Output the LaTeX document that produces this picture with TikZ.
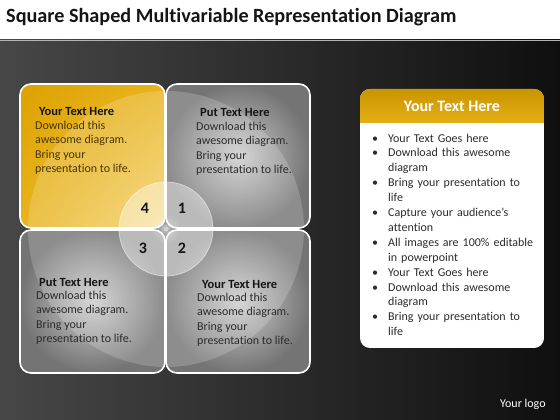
\documentclass[tikz,border=0pt]{standalone}
\usepackage{fontspec}
\setmainfont[Ligatures=NoCommon]{Carlito}
\usetikzlibrary{positioning,shadings}
\definecolor{bgLeft}{HTML}{474747}
\definecolor{bgRight}{HTML}{0F0F0F}
\definecolor{bandLine}{HTML}{B4B4B4}
\definecolor{goldDark}{HTML}{DDA100}
\definecolor{goldMid}{HTML}{E8B31A}
\definecolor{goldLight}{HTML}{F3D36E}
\definecolor{goldHeadTop}{HTML}{C99500}
\definecolor{goldHeadBottom}{HTML}{E4AE14}
\definecolor{cellLight}{HTML}{CDCDCD}
\definecolor{cellDark}{HTML}{747474}
\definecolor{titleInk}{HTML}{151515}
\definecolor{grayInk}{HTML}{2C2C2C}
\definecolor{goldInk}{HTML}{4A3600}
\newcommand\cellRadius{11pt}
\newcommand\centerX{166}
\newcommand\centerY{229}
% title, then the body under it
\newcommand\cellText[7]{
	\node[celltitle] (#1title) at (#2,#3) {#6};
	\node[cellbody, text=#7] (#1body) at (#4,#5) {Download this\\awesome diagram.\\Bring your\\presentation to life.};
}
\tikzset{
	cellbox/.style={rounded corners=\cellRadius},
	cellborder/.style={draw=white, line width=1.6pt, rounded corners=\cellRadius},
	headline/.style={font=\bfseries\fontsize{20.2}{23}\selectfont, text=titleInk, inner sep=0pt, anchor=base west},
	celltitle/.style={font=\bfseries\fontsize{12.5}{14}\selectfont, text=titleInk, inner sep=0pt, anchor=base west},
	cellbody/.style={font=\fontsize{12}{14.6}\selectfont, align=left, inner sep=0pt, anchor=north west},
	numlabel/.style={font=\bfseries\fontsize{16}{16}\selectfont, text=titleInk, inner sep=0pt},
	paneltitle/.style={font=\bfseries\fontsize{16}{18}\selectfont, text=white, inner sep=0pt},
	paneltext/.style={font=\fontsize{12}{14.9}\selectfont, text=grayInk, text width=175pt, inner sep=0pt, anchor=north west},
}

\begin{document}
\begin{tikzpicture}[x=1pt, y=-1pt]
	\useasboundingbox (0,0) rectangle (560,420);

	% title band and dark backdrop
	\fill[white] (0,0) rectangle (560,40);
	\shade[left color=bgLeft, right color=bgRight] (0,40) rectangle (560,420);
	\draw[bandLine, line width=0.8pt] (0,40) -- (560,40);
	\node[headline] (title) at (6,23) {Square Shaped Multivariable Representation Diagram};

	% the four cells
	\shade[cellbox, upper left=goldDark, upper right=goldMid, lower left=goldMid, lower right=goldLight]
		(20,84) rectangle (165,228);
	\shade[cellbox, inner color=cellLight, outer color=cellDark] (166,84) rectangle (310,228);
	\shade[cellbox, inner color=cellLight, outer color=cellDark] (20,230) rectangle (165,373);
	\shade[cellbox, inner color=cellLight, outer color=cellDark] (166,230) rectangle (310,373);

	% lighter sweep round the centre
	\begin{scope}
		\clip[cellbox] (20,84) rectangle (165,228) (166,84) rectangle (310,228)
			(20,230) rectangle (165,373) (166,230) rectangle (310,373);
		\fill[white, opacity=0.18] (\centerX,\centerY) circle (138);
	\end{scope}

	% centre disc with a soft glow
	\fill[white, opacity=0.4] (\centerX,\centerY) circle (47);
	\draw[white, opacity=0.5, line width=0.8pt] (\centerX,\centerY) circle (47);
	\foreach \r/\o in {14/0.06,11/0.08,8/0.12,5/0.2,2.5/0.4}{
		\fill[white, opacity=\o] (\centerX,\centerY) circle (\r);
	}

	% cell borders
	\draw[cellborder] (20,84) rectangle (165,228);
	\draw[cellborder] (166,84) rectangle (310,228);
	\draw[cellborder] (20,230) rectangle (165,373);
	\draw[cellborder] (166,230) rectangle (310,373);

	% cell texts
	\cellText{tl}{39}{116}{35}{120.5}{Your Text Here}{goldInk}
	\cellText{tr}{200}{117}{196}{121.5}{Put Text Here}{grayInk}
	\cellText{bl}{39}{286}{36}{290.5}{Put Text Here}{grayInk}
	\cellText{br}{202}{288}{197}{292.5}{Your Text Here}{grayInk}

	\node[numlabel] (n4) at (145,208) {4};
	\node[numlabel] (n1) at (182,208) {1};
	\node[numlabel] (n3) at (143,248) {3};
	\node[numlabel] (n2) at (182,248) {2};

	% side panel
	\begin{scope}
		\clip[rounded corners=10pt] (360,89) rectangle (544,348);
		\fill[white] (360,89) rectangle (544,348);
		\shade[top color=goldHeadTop, bottom color=goldHeadBottom] (360,89) rectangle (544,122);
	\end{scope}
	\node[paneltitle] (panelhead) at (452,106) {Your Text Here};
	\node[paneltext] (panelbody) at (372,127) {%
		\begin{list}{\textbullet}{\setlength\leftmargin{16pt}\setlength\labelwidth{6pt}%
			\setlength\labelsep{10pt}\setlength\itemsep{0pt}\setlength\parsep{0pt}%
			\setlength\topsep{0pt}\setlength\partopsep{0pt}}
		\item Your Text Goes here
		\item Download this awesome\newline diagram
		\item Bring your presentation to\newline life
		\item Capture your audience’s\newline attention
		\item All images are 100\% editable\newline in powerpoint
		\item Your Text Goes here
		\item Download this awesome\newline diagram
		\item Bring your presentation to\newline life
		\end{list}};

	\node[font=\fontsize{12}{14}\selectfont, text=white, inner sep=0pt, anchor=base west] (logo) at (500,407) {Your logo};
\end{tikzpicture}
\end{document}
